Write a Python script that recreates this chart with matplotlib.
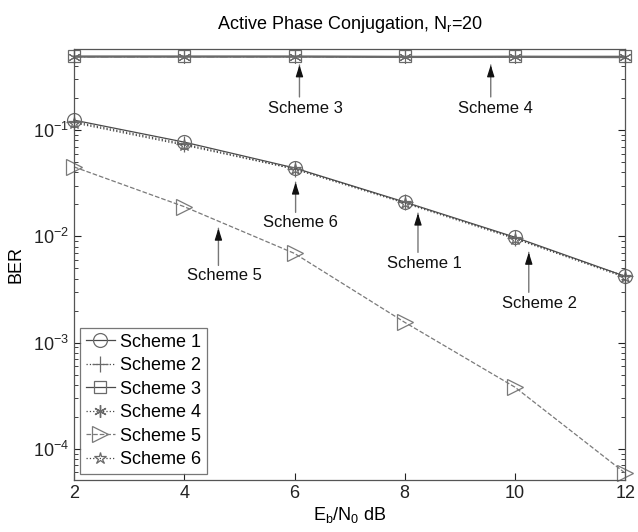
import matplotlib
matplotlib.use("Agg")
import matplotlib.pyplot as plt
import numpy as np

plt.rcParams['font.family'] = ['Liberation Sans', 'DejaVu Sans']
plt.rcParams['mathtext.fontset'] = 'custom'
plt.rcParams['mathtext.rm'] = 'Liberation Sans'
plt.rcParams['mathtext.it'] = 'Liberation Sans'

ebn0 = [2, 4, 6, 8, 10, 12]
scheme1 = [0.124, 0.077, 0.044, 0.021, 0.0098, 0.0042]
scheme2 = [0.120, 0.074, 0.043, 0.021, 0.0096, 0.0042]
scheme3 = [0.495, 0.495, 0.495, 0.493, 0.494, 0.494]
scheme4 = [0.490, 0.490, 0.490, 0.487, 0.488, 0.485]
scheme5 = [0.045, 0.019, 0.0069, 0.00155, 0.00038, 0.000059]
scheme6 = [0.117, 0.072, 0.043, 0.0205, 0.0095, 0.0041]
labels = ['Scheme 1', 'Scheme 2', 'Scheme 3', 'Scheme 4', 'Scheme 5', 'Scheme 6']

# annotation: label, text position, arrow base, arrow tip
ann_labels = ['Scheme 3', 'Scheme 4', 'Scheme 6', 'Scheme 5', 'Scheme 1', 'Scheme 2']
ann_text = [(6.2, 0.161), (9.65, 0.161), (6.11, 0.0136), (4.73, 0.00428), (8.35, 0.00556), (10.44, 0.00233)]
ann_base = [(6.09, 0.205), (9.56, 0.205), (6.02, 0.0168), (4.62, 0.00532), (8.24, 0.00706), (10.25, 0.00297)]
ann_tip = [(6.09, 0.41), (9.56, 0.41), (6.02, 0.0323), (4.62, 0.0119), (8.24, 0.0165), (10.25, 0.00706)]

fig = plt.figure(figsize=(6.38, 5.32), dpi=100)
ax = fig.add_axes([0.116, 0.098, 0.864, 0.81])

lc = '#4a4a4a'
mc = '#6a6a6a'
mk = dict(markerfacecolor='none', markeredgecolor=mc, markeredgewidth=0.9, clip_on=False)
ax.plot(ebn0, scheme1, '-', color=lc, lw=0.9, marker='o', markersize=10, label=labels[0], **mk)
ax.plot(ebn0, scheme2, ':', color=lc, lw=0.9, marker='+', markersize=11, label=labels[1], **mk)
ax.plot(ebn0, scheme3, '-', color=lc, lw=0.9, marker='s', markersize=8, label=labels[2], **mk)
ax.plot(ebn0, scheme4, '-.', color=lc, lw=0.9, label='_nolegend_', clip_on=False)
ax.plot(ebn0, scheme4, 'None', marker=(6, 2, 0), markersize=9, color=mc, markeredgewidth=0.8, clip_on=False)
ax.plot([], [], ':', color=lc, lw=0.9, marker=(6, 2, 0), markersize=9, markeredgecolor=mc, label=labels[3])
ax.plot(ebn0, scheme5, '--', color='#7a7a7a', lw=0.9, marker='>', markersize=11, label=labels[4],
        markerfacecolor='none', markeredgecolor='#7a7a7a', markeredgewidth=0.9, clip_on=False)
ax.plot(ebn0, scheme6, ':', color=lc, lw=0.9, marker='*', markersize=9, label=labels[5], **mk)

ax.set_yscale('log')
ax.set_xlim(2, 12)
ax.set_ylim(5.1e-5, 0.58)
ax.set_xticks(ebn0)
ax.set_yticks([1e-4, 1e-3, 1e-2, 1e-1])
ax.tick_params(which='both', direction='in', top=True, right=True, labelsize=13, colors='#222222')
ax.tick_params(which='major', length=5)
ax.tick_params(which='minor', length=3)
for s in ax.spines.values():
    s.set_color('#555555')
    s.set_linewidth(0.9)

ax.set_title('Active Phase Conjugation, N$_\\mathrm{r}$=20', fontsize=13, pad=14)
ax.set_xlabel('E$_\\mathrm{b}$/N$_\\mathrm{0}$ dB', fontsize=13, labelpad=2)
ax.set_ylabel('BER', fontsize=13, labelpad=6)

for lab, tp, bp, tip in zip(ann_labels, ann_text, ann_base, ann_tip):
    ax.annotate('', xy=tip, xytext=bp,
                arrowprops=dict(arrowstyle='-', color='#777777', lw=1.0, shrinkA=0, shrinkB=0))
    ax.annotate('', xy=tip, xytext=(tip[0], tip[1] * 0.85),
                arrowprops=dict(arrowstyle='-|>,head_length=0.7,head_width=0.22', color='#111111',
                                lw=0.9, shrinkA=0, shrinkB=0))
    ax.text(tp[0], tp[1], lab, ha='center', va='center', fontsize=12, color='#111111')

leg = ax.legend(loc='lower left', fontsize=13, frameon=True, fancybox=False, edgecolor='#555555',
                handlelength=1.6, handletextpad=0.3, labelspacing=0.36, borderpad=0.3,
                borderaxespad=0.35)
leg.get_frame().set_linewidth(0.9)

fig.savefig('out.png', dpi=100)
